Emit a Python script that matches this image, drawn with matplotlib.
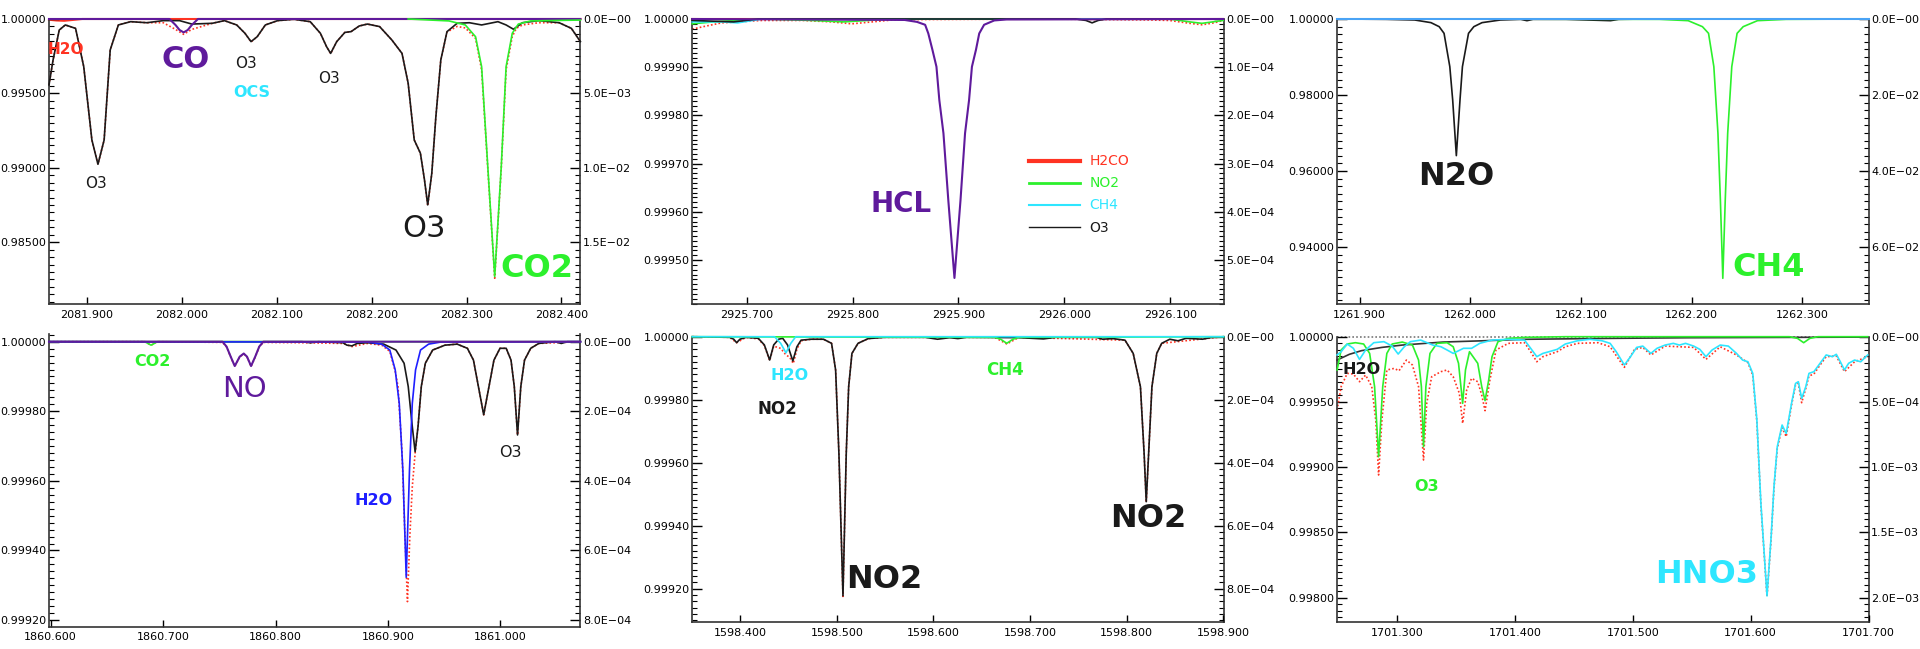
import matplotlib
matplotlib.use('Agg')
import matplotlib.pyplot as plt
from matplotlib.ticker import AutoMinorLocator, FuncFormatter
from matplotlib.lines import Line2D

# ---- panel 1 : 2082 cm-1 (CO / O3 / CO2) ----
p1_o3_x = [2081.860, 2081.8643, 2081.8708, 2081.8772, 2081.8880, 2081.8966, 2081.9052, 2081.9116, 2081.9181, 2081.9245,
           2081.9331, 2081.9460, 2081.9632, 2081.9804, 2081.9976, 2082.0105, 2082.0320, 2082.0449, 2082.0578, 2082.0665,
           2082.0729, 2082.0794, 2082.0880, 2082.1009, 2082.1181, 2082.1353, 2082.1460, 2082.1525, 2082.1568, 2082.1632,
           2082.1718, 2082.1783, 2082.1869, 2082.1955, 2082.2084, 2082.2213, 2082.2320, 2082.2385, 2082.2449, 2082.2514,
           2082.2557, 2082.2591, 2082.2634, 2082.2677, 2082.2729, 2082.2794, 2082.2901, 2082.3030, 2082.3159, 2082.3331,
           2082.3417, 2082.3495, 2082.3589, 2082.3761, 2082.3976, 2082.4105, 2082.4200]
p1_o3_y = [0.99557, 0.99725, 0.99926, 0.99960, 0.99937, 0.99680, 0.99187, 0.99024, 0.99187, 0.99792,
           0.99960, 0.99982, 0.99975, 0.99989, 0.99989, 0.99966, 0.99971, 0.99989, 0.99960, 0.99904,
           0.99848, 0.99881, 0.99960, 0.99989, 0.99998, 0.99982, 0.99904, 0.99814, 0.99769, 0.99848,
           0.99910, 0.99915, 0.99953, 0.99966, 0.99949, 0.99859, 0.99769, 0.99568, 0.99187, 0.99098,
           0.98919, 0.98751, 0.98963, 0.99344, 0.99725, 0.99915, 0.99971, 0.99975, 0.99960, 0.99982,
           0.99960, 0.99931, 0.99975, 0.99989, 0.99975, 0.99937, 0.99848]
p1_tot_x = [2081.860, 2081.8643, 2081.8708, 2081.8772, 2081.8880, 2081.8966, 2081.9052, 2081.9116, 2081.9181, 2081.9245,
            2081.9331, 2081.9460, 2081.9632, 2081.9804, 2081.9933, 2082.0019, 2082.0105, 2082.0320, 2082.0449, 2082.0578,
            2082.0665, 2082.0729, 2082.0794, 2082.0880, 2082.1009, 2082.1181, 2082.1353, 2082.1460, 2082.1525, 2082.1568,
            2082.1632, 2082.1718, 2082.1783, 2082.1869, 2082.1955, 2082.2084, 2082.2213, 2082.2320, 2082.2385, 2082.2449,
            2082.2514, 2082.2557, 2082.2591, 2082.2634, 2082.2677, 2082.2729, 2082.2794, 2082.2901, 2082.2987, 2082.3095,
            2082.3159, 2082.3224, 2082.3297, 2082.3366, 2082.3417, 2082.3482, 2082.3525, 2082.3589, 2082.3761, 2082.3976,
            2082.4105, 2082.4200]
p1_tot_y = [0.99557, 0.99725, 0.99926, 0.99960, 0.99937, 0.99680, 0.99187, 0.99024, 0.99187, 0.99792,
            0.99960, 0.99982, 0.99975, 0.99975, 0.99930, 0.99897, 0.99930, 0.99971, 0.99989, 0.99960,
            0.99904, 0.99846, 0.99881, 0.99960, 0.99989, 0.99998, 0.99982, 0.99904, 0.99814, 0.99767,
            0.99848, 0.99910, 0.99915, 0.99953, 0.99966, 0.99949, 0.99859, 0.99769, 0.99568, 0.99187,
            0.99098, 0.98919, 0.98745, 0.98963, 0.99344, 0.99725, 0.99912, 0.99950, 0.99940, 0.99870,
            0.99658, 0.98997, 0.98258, 0.98997, 0.99658, 0.99882, 0.99937, 0.99960, 0.99975, 0.99975,
            0.99937, 0.99848]
p1_co2_x = [2082.2385, 2082.2815, 2082.2987, 2082.3095, 2082.3159, 2082.3224, 2082.3297, 2082.3366, 2082.3417,
            2082.3482, 2082.3546, 2082.3675, 2082.4200]
p1_co2_y = [1.0, 0.99987, 0.99960, 0.99881, 0.99680, 0.99008, 0.98269, 0.99008, 0.99680,
            0.99904, 0.99966, 0.99987, 0.99993]
p1_co_x = [2081.860, 2081.9869, 2081.9933, 2081.9976, 2082.0019, 2082.0062, 2082.0105, 2082.0170, 2082.4200]
p1_co_y = [1.0, 1.0, 0.99960, 0.99926, 0.99910, 0.99926, 0.99960, 1.0, 1.0]
p1_h2o_x = [2081.860, 2081.868, 2081.876, 2081.884, 2081.895, 2082.420]
p1_h2o_y = [0.99995, 0.99990, 0.99988, 0.99993, 1.0, 1.0]

# ---- panel 2 : 2925.9 cm-1 (HCl) ----
p2_hcl_x = [2925.6485, 2925.8492, 2925.8608, 2925.8685, 2925.8715, 2925.8754, 2925.8792, 2925.8819, 2925.8858, 2925.8904,
            2925.8962, 2925.9019, 2925.9062, 2925.9100, 2925.9127, 2925.9165, 2925.9196, 2925.9242, 2925.9338, 2925.9454,
            2926.1500]
p2_hcl_y = [1.0, 0.999998, 0.999994, 0.999988, 0.999970, 0.999936, 0.999901, 0.999832, 0.999763, 0.999624,
            0.999463, 0.999624, 0.999763, 0.999832, 0.999901, 0.999936, 0.999970, 0.999988, 0.999997, 0.999999,
            1.0]
p2_tot_x = [2925.6485, 2925.6608, 2925.6762, 2925.6915, 2925.7146, 2925.7531, 2925.7800, 2925.7992, 2925.8185,
            2925.8377, 2925.8685, 2925.9838, 2926.0800, 2926.0992, 2926.1185, 2926.1300, 2926.1415, 2926.1500]
p2_tot_y = [0.999979, 0.999985, 0.999992, 0.999994, 0.999997, 0.999997, 0.999994, 0.999990, 0.999994,
            0.999998, 0.999999, 1.0, 0.999998, 0.999997, 0.999991, 0.999988, 0.999992, 0.999997]
p2_no2_x = [2925.6485, 2925.6685, 2925.6954, 2925.7146, 2925.7608, 2925.7915, 2925.8146, 2925.8300, 2926.0992,
            2926.1185, 2926.1300, 2926.1500]
p2_no2_y = [0.999990, 0.999994, 0.999998, 1.0, 0.999997, 0.999994, 0.999997, 1.0, 1.0, 0.999994, 0.999991, 0.999997]
p2_ch4_x = [2925.6485, 2925.6762, 2925.6915, 2925.7146, 2926.1500]
p2_ch4_y = [0.999994, 0.999994, 0.999992, 1.0, 1.0]
p2_o3_x = [2925.6485, 2925.6877, 2925.7108, 2926.0108, 2926.0204, 2926.0262, 2926.0319, 2926.0396, 2926.1500]
p2_o3_y = [0.999997, 0.999994, 1.0, 1.0, 0.999997, 0.999992, 0.999997, 1.0, 1.0]
p2_h2co_x = [2925.6485, 2926.1500]
p2_h2co_y = [1.0, 1.0]
p2_legend = ['H2CO', 'NO2', 'CH4', 'O3']

# ---- panel 3 : 1262 cm-1 (N2O / CH4) ----
p3_n2o_x = [1261.8797, 1261.9240, 1261.9498, 1261.9645, 1261.9719, 1261.9763, 1261.9815, 1261.9841, 1261.9874, 1261.9907,
            1261.9929, 1261.9984, 1262.0032, 1262.0106, 1262.0272, 1262.0456, 1262.0512, 1262.0567, 1262.0862, 1262.1267,
            1262.1341, 1262.1599, 1262.3597]
p3_n2o_y = [1.0, 0.99991, 0.99974, 0.99904, 0.99798, 0.99623, 0.98746, 0.97868, 0.96404, 0.97868,
            0.98746, 0.99623, 0.99798, 0.99904, 0.99974, 0.99991, 0.99956, 0.99991, 0.99991, 0.99956,
            0.99991, 1.0, 1.0]
p3_ch4_x = [1261.8797, 1262.1710, 1262.1968, 1262.2097, 1262.2152, 1262.2200, 1262.2237, 1262.2259, 1262.2281,
            1262.2303, 1262.2325, 1262.2362, 1262.2410, 1262.2465, 1262.2594, 1262.2853, 1262.3597]
p3_ch4_y = [1.0, 0.99991, 0.99956, 0.99798, 0.99623, 0.98746, 0.96991, 0.95237, 0.93175,
            0.95237, 0.96991, 0.98746, 0.99623, 0.99798, 0.99956, 0.99991, 1.0]
p3_base_x = [1261.8797, 1262.3597]
p3_base_y = [1.0, 1.0]

# ---- panel 4 : 1860.9 cm-1 (NO / H2O / O3) ----
p4_no_x = [1860.5985, 1860.7528, 1860.7564, 1860.7601, 1860.7637, 1860.7681, 1860.7717, 1860.7746, 1860.7782,
           1860.7819, 1860.7855, 1860.7891, 1861.0711]
p4_no_y = [1.0, 1.0, 0.999986, 0.999957, 0.999930, 0.999957, 0.999966, 0.999957, 0.999930,
           0.999957, 0.999986, 1.0, 1.0]
p4_co2_x = [1860.5985, 1860.6838, 1860.6864, 1860.6893, 1860.6922, 1860.6947, 1861.0711]
p4_co2_y = [1.0, 1.0, 0.999995, 0.999990, 0.999995, 1.0, 1.0]
p4_h2o_x = [1860.5985, 1860.8817, 1860.8944, 1860.9016, 1860.9064, 1860.9100, 1860.9132, 1860.9162, 1860.9191,
            1860.9216, 1860.9245, 1860.9289, 1860.9361, 1860.9470, 1861.0711]
p4_h2o_y = [1.0, 0.999999, 0.999993, 0.999976, 0.999919, 0.999823, 0.999631, 0.999323, 0.999631,
            0.999823, 0.999919, 0.999976, 0.999993, 0.999999, 1.0]
p4_o3_x = [1860.5985, 1860.8236, 1860.8309, 1860.8381, 1860.8599, 1860.8635, 1860.8679, 1860.8726, 1860.8817, 1860.8962,
           1860.9071, 1860.9143, 1860.9180, 1860.9216, 1860.9241, 1860.9267, 1860.9296, 1860.9332, 1860.9397, 1860.9506,
           1860.9615, 1860.9706, 1860.9760, 1860.9804, 1860.9851, 1860.9898, 1860.9942, 1860.9996, 1861.0051, 1861.0094,
           1861.0123, 1861.0152, 1861.0181, 1861.0214, 1861.0269, 1861.0341, 1861.0486, 1861.0541, 1861.0595, 1861.0711]
p4_o3_y = [1.0, 1.0, 0.999997, 1.0, 0.999997, 0.999990, 0.999988, 0.999995, 0.999997, 0.999993,
           0.999976, 0.999938, 0.999871, 0.999756, 0.999684, 0.999756, 0.999871, 0.999938, 0.999976, 0.999990,
           0.999993, 0.999981, 0.999947, 0.999871, 0.999790, 0.999871, 0.999947, 0.999981, 0.999981, 0.999947,
           0.999871, 0.999732, 0.999871, 0.999947, 0.999981, 0.999995, 1.0, 0.999995, 1.0, 1.0]
p4_tot_x = [1860.5985, 1860.6838, 1860.6893, 1860.6947, 1860.7528, 1860.7564, 1860.7601, 1860.7637, 1860.7681, 1860.7717,
            1860.7746, 1860.7782, 1860.7819, 1860.7855, 1860.7891, 1860.8236, 1860.8599, 1860.8679, 1860.8817, 1860.8944,
            1860.9016, 1860.9064, 1860.9089, 1860.9125, 1860.9151, 1860.9173, 1860.9194, 1860.9216, 1860.9241, 1860.9267,
            1860.9296, 1860.9332, 1860.9397, 1860.9506, 1860.9615, 1860.9706, 1860.9760, 1860.9804, 1860.9851, 1860.9898,
            1860.9942, 1860.9996, 1861.0051, 1861.0094, 1861.0123, 1861.0152, 1861.0181, 1861.0214, 1861.0269, 1861.0341,
            1861.0711]
p4_tot_y = [1.0, 1.0, 0.999990, 1.0, 0.999998, 0.999985, 0.999956, 0.999929, 0.999956, 0.999965,
            0.999956, 0.999929, 0.999956, 0.999985, 0.999998, 0.999997, 0.999995, 0.999986, 0.999995, 0.999990,
            0.999972, 0.999915, 0.999871, 0.999679, 0.999440, 0.999253, 0.999440, 0.999583, 0.999679, 0.999756,
            0.999871, 0.999938, 0.999976, 0.999990, 0.999993, 0.999981, 0.999947, 0.999871, 0.999790, 0.999871,
            0.999947, 0.999981, 0.999981, 0.999947, 0.999871, 0.999732, 0.999871, 0.999947, 0.999981, 0.999995,
            1.0]

# ---- panel 5 : 1598.5 cm-1 (NO2) ----
p5_no2_x = [1598.3502, 1598.3890, 1598.3932, 1598.3962, 1598.3996, 1598.4059, 1598.4186, 1598.4249, 1598.4304, 1598.4346,
            1598.4397, 1598.4439, 1598.4489, 1598.4544, 1598.4586, 1598.4629, 1598.4734, 1598.4861, 1598.4945, 1598.4987,
            1598.5021, 1598.5063, 1598.5097, 1598.5122, 1598.5156, 1598.5219, 1598.5325, 1598.5494, 1598.5916, 1598.6042,
            1598.6169, 1598.6253, 1598.6338, 1598.6886, 1598.7139, 1598.7266, 1598.7688, 1598.7751, 1598.7857, 1598.7983,
            1598.8068, 1598.8143, 1598.8181, 1598.8203, 1598.8228, 1598.8262, 1598.8312, 1598.8363, 1598.8447, 1598.8532,
            1598.8616, 1598.8785, 1598.8869, 1598.9004]
p5_no2_y = [1.0, 0.999998, 0.999992, 0.999981, 0.999992, 0.999998, 0.999995, 0.999974, 0.999926, 0.999974,
            0.999992, 0.999995, 0.999974, 0.999923, 0.999968, 0.999989, 0.999992, 0.999992, 0.999979, 0.999894,
            0.999630, 0.999177, 0.999630, 0.999841, 0.999947, 0.999979, 0.999994, 0.999998, 0.999998, 0.999992,
            0.999997, 0.999994, 0.999998, 0.999997, 0.999993, 0.999998, 0.999998, 0.999992, 0.999994, 0.999989,
            0.999947, 0.999841, 0.999630, 0.999476, 0.999630, 0.999841, 0.999947, 0.999979, 0.999992, 0.999987,
            0.999995, 0.999992, 0.999997, 1.0]
p5_h2o_x = [1598.3502, 1598.4354, 1598.4418, 1598.4473, 1598.4523, 1598.4574, 1598.9004]
p5_h2o_y = [1.0, 1.0, 0.999979, 0.999949, 0.999979, 1.0, 1.0]
p5_ch4_x = [1598.3502, 1598.6633, 1598.6696, 1598.6759, 1598.6823, 1598.6886, 1598.9004]
p5_ch4_y = [1.0, 0.999998, 0.999992, 0.999979, 0.999992, 0.999998, 1.0]
p5_tot_x = [1598.3502, 1598.3890, 1598.3962, 1598.4059, 1598.4186, 1598.4249, 1598.4304, 1598.4346, 1598.4418, 1598.4473,
            1598.4510, 1598.4549, 1598.4586, 1598.4629, 1598.4734, 1598.4861, 1598.4945, 1598.4987, 1598.5021, 1598.5063,
            1598.5097, 1598.5122, 1598.5156, 1598.5219, 1598.5325, 1598.5494, 1598.6633, 1598.6759, 1598.6886, 1598.7983,
            1598.8068, 1598.8143, 1598.8181, 1598.8203, 1598.8228, 1598.8262, 1598.8312, 1598.8363, 1598.9004]
p5_tot_y = [1.0, 0.999998, 0.999981, 0.999998, 0.999993, 0.999972, 0.999924, 0.999970, 0.999963, 0.999942,
            0.999935, 0.999915, 0.999960, 0.999987, 0.999992, 0.999992, 0.999979, 0.999894, 0.999630, 0.999175,
            0.999630, 0.999841, 0.999947, 0.999979, 0.999994, 0.999998, 0.999998, 0.999977, 0.999998, 0.999989,
            0.999947, 0.999841, 0.999630, 0.999474, 0.999630, 0.999841, 0.999947, 0.999979, 1.0]

# ---- panel 6 : 1701.6 cm-1 (HNO3 / O3 / H2O) ----
p6_h2o_x = [1701.2492, 1701.2596, 1701.2699, 1701.2872, 1701.3045, 1701.3391, 1701.3736, 1701.4082, 1701.4774,
            1701.5465, 1701.6993]
p6_h2o_y = [0.999821, 0.999865, 0.999893, 0.999918, 0.999936, 0.999959, 0.999969, 0.999980, 0.999987,
            0.999992, 0.999997]
p6_o3_x = [1701.2492, 1701.2526, 1701.2578, 1701.2647, 1701.2717, 1701.2768, 1701.2810, 1701.2844, 1701.2879, 1701.2914,
           1701.2959, 1701.3045, 1701.3131, 1701.3183, 1701.3207, 1701.3225, 1701.3245, 1701.3280, 1701.3339, 1701.3425,
           1701.3477, 1701.3522, 1701.3557, 1701.3581, 1701.3615, 1701.3685, 1701.3719, 1701.3747, 1701.3778, 1701.3806,
           1701.3857, 1701.3944, 1701.4082, 1701.4428, 1701.6329, 1701.6398, 1701.6450, 1701.6502, 1701.6571, 1701.6993]
p6_o3_y = [0.999745, 0.999898, 0.999944, 0.999954, 0.999944, 0.999872, 0.999617, 0.999080, 0.999617, 0.999872,
           0.999944, 0.999959, 0.999936, 0.999821, 0.999617, 0.999157, 0.999617, 0.999872, 0.999949, 0.999954,
           0.999923, 0.999796, 0.999489, 0.999745, 0.999885, 0.999796, 0.999617, 0.999510, 0.999668, 0.999847,
           0.999962, 0.999987, 0.999995, 1.0, 1.0, 0.999987, 0.999954, 0.999987, 1.0, 1.0]
p6_hno3_x = [1701.2492, 1701.2526, 1701.2578, 1701.2630, 1701.2682, 1701.2734, 1701.2803, 1701.2889, 1701.2959, 1701.3010,
             1701.3062, 1701.3114, 1701.3201, 1701.3304, 1701.3373, 1701.3425, 1701.3477, 1701.3564, 1701.3633, 1701.3702,
             1701.3806, 1701.3944, 1701.4082, 1701.4134, 1701.4186, 1701.4238, 1701.4290, 1701.4359, 1701.4428, 1701.4532,
             1701.4635, 1701.4739, 1701.4808, 1701.4860, 1701.4929, 1701.4981, 1701.5033, 1701.5085, 1701.5154, 1701.5206,
             1701.5275, 1701.5344, 1701.5396, 1701.5448, 1701.5517, 1701.5569, 1701.5621, 1701.5673, 1701.5742, 1701.5811,
             1701.5880, 1701.5932, 1701.5977, 1701.6018, 1701.6053, 1701.6087, 1701.6139, 1701.6174, 1701.6198, 1701.6226,
             1701.6267, 1701.6302, 1701.6347, 1701.6381, 1701.6405, 1701.6433, 1701.6468, 1701.6495, 1701.6537, 1701.6589,
             1701.6641, 1701.6693, 1701.6727, 1701.6761, 1701.6796, 1701.6831, 1701.6882, 1701.6934, 1701.6993]
p6_hno3_y = [0.999860, 0.999885, 0.999944, 0.999911, 0.999826, 0.999898, 0.999954, 0.999962, 0.999928, 0.999867,
             0.999923, 0.999962, 0.999974, 0.999936, 0.999923, 0.999898, 0.999872, 0.999911, 0.999911, 0.999949,
             0.999974, 0.999980, 0.999974, 0.999911, 0.999847, 0.999872, 0.999885, 0.999903, 0.999944, 0.999969,
             0.999980, 0.999969, 0.999949, 0.999885, 0.999783, 0.999847, 0.999918, 0.999928, 0.999872, 0.999911,
             0.999936, 0.999949, 0.999936, 0.999949, 0.999928, 0.999903, 0.999847, 0.999898, 0.999936, 0.999928,
             0.999872, 0.999821, 0.999808, 0.999719, 0.999361, 0.998723, 0.998013, 0.998467, 0.998851, 0.999157,
             0.999323, 0.999259, 0.999489, 0.999642, 0.999655, 0.999527, 0.999617, 0.999719, 0.999732, 0.999796,
             0.999860, 0.999847, 0.999865, 0.999808, 0.999745, 0.999796, 0.999821, 0.999808, 0.999860]
p6_tot_x = [1701.2492, 1701.2526, 1701.2578, 1701.2630, 1701.2682, 1701.2734, 1701.2786, 1701.2820, 1701.2844, 1701.2872,
            1701.2914, 1701.2976, 1701.3017, 1701.3080, 1701.3131, 1701.3183, 1701.3225, 1701.3252, 1701.3294, 1701.3373,
            1701.3425, 1701.3477, 1701.3529, 1701.3557, 1701.3591, 1701.3633, 1701.3685, 1701.3719, 1701.3747, 1701.3788,
            1701.3840, 1701.3944, 1701.4082, 1701.4134, 1701.4186, 1701.4238, 1701.4359, 1701.4428, 1701.4532, 1701.4705,
            1701.4808, 1701.4929, 1701.5015, 1701.5085, 1701.5154, 1701.5275, 1701.5396, 1701.5517, 1701.5621, 1701.5742,
            1701.5880, 1701.5977, 1701.6018, 1701.6053, 1701.6087, 1701.6139, 1701.6174, 1701.6198, 1701.6226, 1701.6267,
            1701.6302, 1701.6347, 1701.6381, 1701.6405, 1701.6433, 1701.6468, 1701.6495, 1701.6537, 1701.6589, 1701.6641,
            1701.6727, 1701.6796, 1701.6882, 1701.6993]
p6_tot_y = [0.999438, 0.999617, 0.999719, 0.999714, 0.999655, 0.999706, 0.999617, 0.999361, 0.998940, 0.999361,
            0.999745, 0.999757, 0.999739, 0.999821, 0.999783, 0.999617, 0.999055, 0.999489, 0.999693, 0.999732,
            0.999745, 0.999693, 0.999566, 0.999336, 0.999591, 0.999681, 0.999655, 0.999553, 0.999433, 0.999668,
            0.999898, 0.999949, 0.999954, 0.999885, 0.999808, 0.999847, 0.999885, 0.999923, 0.999949, 0.999954,
            0.999923, 0.999765, 0.999903, 0.999918, 0.999860, 0.999928, 0.999923, 0.999918, 0.999826, 0.999923,
            0.999860, 0.999801, 0.999706, 0.999349, 0.998710, 0.998008, 0.998455, 0.998838, 0.999144, 0.999305,
            0.999234, 0.999476, 0.999630, 0.999642, 0.999494, 0.999604, 0.999699, 0.999714, 0.999783, 0.999847,
            0.999852, 0.999732, 0.999808, 0.999847]
p6_base_x = [1701.2492, 1701.6993]
p6_base_y = [1.0, 1.0]

RED = '#ff3322'
BLACK = '#1a1a1a'
GREEN = '#2cf02c'
PURPLE = '#5f1a9c'
CYAN = '#2ee6ff'
BLUE = '#1f1fff'
SKY = '#4aa3f5'
DOT = (0, (1, 1.3))


def sci(v, pos):
    if abs(v) < 1e-12:
        return '0.0E\u221200'
    return f'{v:.1E}'.replace('-', '\u2212')


def frame(ax, xlim, xticks, ylim, yticks, rticks):
    ax.set_xlim(xlim)
    ax.set_ylim(ylim)
    ax.set_xticks(xticks)
    ax.set_yticks(yticks)
    ax.xaxis.set_major_formatter(FuncFormatter(lambda v, p: f'{v:.3f}'))
    ax.yaxis.set_major_formatter(FuncFormatter(lambda v, p: f'{v:.5f}'))
    ax.yaxis.set_minor_locator(AutoMinorLocator(10))
    ax.tick_params(axis='y', which='major', direction='in', length=7, width=1, pad=2, labelsize=8)
    ax.tick_params(axis='y', which='minor', direction='in', length=3.5, width=0.8)
    ax.tick_params(axis='x', which='major', direction='in', length=5, width=1, pad=4, labelsize=8)
    ax.spines['top'].set_visible(False)
    ax.spines['right'].set_visible(False)
    for s in ('left', 'bottom'):
        ax.spines[s].set_linewidth(1.2)
        ax.spines[s].set_color('#333333')
    sec = ax.secondary_yaxis('right', functions=(lambda y: 1 - y, lambda a: 1 - a))
    sec.set_yticks(rticks)
    sec.yaxis.set_major_formatter(FuncFormatter(sci))
    sec.yaxis.set_minor_locator(AutoMinorLocator(10))
    sec.tick_params(which='major', direction='in', length=7, width=1, pad=2, labelsize=8)
    sec.tick_params(which='minor', direction='in', length=3.5, width=0.8)
    sec.spines['right'].set_linewidth(1.2)
    sec.spines['right'].set_color('#333333')


def line(ax, xs, ys, color, ls='-', lw=1.2, z=2):
    ax.plot(xs, ys, color=color, linestyle=ls, lw=lw, zorder=z, clip_on=False,
            solid_joinstyle='round', dash_joinstyle='round')


def label(ax, x, y, s, color, size, bold=True):
    ax.text(x, y, s, color=color, fontsize=size, fontweight='bold' if bold else 'normal',
            ha='center', va='center', zorder=6)


fig = plt.figure(figsize=(19.2, 6.49), dpi=100)
W = 0.27677
ax1 = fig.add_axes([0.02552, 0.53159, W, 0.43914])
ax2 = fig.add_axes([0.36052, 0.53159, W, 0.43914])
ax3 = fig.add_axes([0.69641, 0.53159, W, 0.43914])
ax4 = fig.add_axes([0.02552, 0.03436, W, 0.45100])
ax5 = fig.add_axes([0.36052, 0.04114, W, 0.44006])
ax6 = fig.add_axes([0.69641, 0.04114, W, 0.44006])

# panel 1
line(ax1, p1_h2o_x, p1_h2o_y, RED, lw=1.5, z=1)
line(ax1, p1_tot_x, p1_tot_y, RED, ls=DOT, z=2)
line(ax1, p1_o3_x, p1_o3_y, BLACK, z=3)
line(ax1, p1_co_x, p1_co_y, PURPLE, lw=1.5, z=4)
line(ax1, p1_co2_x, p1_co2_y, GREEN, z=5)
frame(ax1, (2081.86, 2082.42), [2081.9, 2082.0, 2082.1, 2082.2, 2082.3, 2082.4],
      (0.98085, 1.0), [1.0, 0.995, 0.990, 0.985], [0.0, 0.005, 0.010, 0.015])
label(ax1, 2081.878, 0.99792, 'H2O', RED, 11)
label(ax1, 2082.0041, 0.99729, 'CO', PURPLE, 22)
label(ax1, 2082.0677, 0.99700, 'O3', BLACK, 11, bold=False)
label(ax1, 2082.0733, 0.99503, 'OCS', CYAN, 11.5)
label(ax1, 2082.1551, 0.99597, 'O3', BLACK, 11, bold=False)
label(ax1, 2081.9099, 0.98896, 'O3', BLACK, 11, bold=False)
label(ax1, 2082.2557, 0.98589, 'O3', BLACK, 22, bold=False)
label(ax1, 2082.3744, 0.98325, 'CO2', GREEN, 23)

# panel 2
line(ax2, p2_tot_x, p2_tot_y, RED, ls=DOT, z=1)
line(ax2, p2_h2co_x, p2_h2co_y, RED, lw=1.5, z=2)
line(ax2, p2_no2_x, p2_no2_y, GREEN, z=3)
line(ax2, p2_ch4_x, p2_ch4_y, CYAN, z=3)
line(ax2, p2_o3_x, p2_o3_y, BLACK, z=3)
line(ax2, p2_hcl_x, p2_hcl_y, PURPLE, lw=1.5, z=4)
frame(ax2, (2925.6485, 2926.1504), [2925.7, 2925.8, 2925.9, 2926.0, 2926.1],
      (0.999409, 1.0), [1.0, 0.9999, 0.9998, 0.9997, 0.9996, 0.9995],
      [0.0, 1e-4, 2e-4, 3e-4, 4e-4, 5e-4])
label(ax2, 2925.8458, 0.999616, 'HCL', PURPLE, 20)
handles = [Line2D([], [], color=RED, lw=3), Line2D([], [], color=GREEN, lw=2),
           Line2D([], [], color=CYAN, lw=1.5), Line2D([], [], color=BLACK, lw=1)]
ax2.legend(handles, p2_legend, loc='upper left', bbox_to_anchor=(0.633, 0.525), frameon=False,
           fontsize=10, handlelength=3.7, handletextpad=0.7, labelspacing=0.58, borderpad=0,
           borderaxespad=0, labelcolor=[RED, GREEN, CYAN, BLACK])

# panel 3
line(ax3, p3_n2o_x, p3_n2o_y, BLACK, z=2)
line(ax3, p3_ch4_x, p3_ch4_y, GREEN, z=3)
line(ax3, p3_base_x, p3_base_y, SKY, lw=1.5, z=4)
frame(ax3, (1261.8797, 1262.3597), [1261.9, 1262.0, 1262.1, 1262.2, 1262.3],
      (0.925, 1.0), [1.0, 0.98, 0.96, 0.94], [0.0, 0.02, 0.04, 0.06])
label(ax3, 1261.9874, 0.95851, 'N2O', BLACK, 23)
label(ax3, 1262.2698, 0.93456, 'CH4', GREEN, 23)

# panel 4
line(ax4, p4_tot_x, p4_tot_y, RED, ls=DOT, z=1)
line(ax4, p4_o3_x, p4_o3_y, BLACK, z=2)
line(ax4, p4_co2_x, p4_co2_y, GREEN, z=3)
line(ax4, p4_h2o_x, p4_h2o_y, BLUE, z=3)
line(ax4, p4_no_x, p4_no_y, PURPLE, lw=1.5, z=4)
frame(ax4, (1860.5985, 1861.0711), [1860.6, 1860.7, 1860.8, 1860.9, 1861.0],
      (0.999181, 1.0000221), [1.0, 0.9998, 0.9996, 0.9994, 0.9992], [0.0, 2e-4, 4e-4, 6e-4, 8e-4])
label(ax4, 1860.6907, 0.999944, 'CO2', GREEN, 11.5)
label(ax4, 1860.7724, 0.999864, 'NO', PURPLE, 21, bold=False)
label(ax4, 1860.8868, 0.999545, 'H2O', BLUE, 11.5)
label(ax4, 1861.0087, 0.999681, 'O3', BLACK, 11.5, bold=False)

# panel 5
line(ax5, p5_tot_x, p5_tot_y, RED, ls=DOT, z=1)
line(ax5, p5_no2_x, p5_no2_y, BLACK, z=2)
line(ax5, p5_ch4_x, p5_ch4_y, GREEN, z=3)
line(ax5, p5_h2o_x, p5_h2o_y, CYAN, z=4)
frame(ax5, (1598.3502, 1598.9004), [1598.4, 1598.5, 1598.6, 1598.7, 1598.8, 1598.9],
      (0.999093, 1.0), [1.0, 0.9998, 0.9996, 0.9994, 0.9992], [0.0, 2e-4, 4e-4, 6e-4, 8e-4])
label(ax5, 1598.4515, 0.999876, 'H2O', CYAN, 11.5)
label(ax5, 1598.4388, 0.999771, 'NO2', BLACK, 12)
label(ax5, 1598.6743, 0.999895, 'CH4', GREEN, 12)
label(ax5, 1598.5489, 0.999228, 'NO2', BLACK, 23)
label(ax5, 1598.8219, 0.999423, 'NO2', BLACK, 23)

# panel 6
line(ax6, p6_base_x, p6_base_y, '#777777', ls=DOT, z=1)
line(ax6, p6_tot_x, p6_tot_y, RED, ls=DOT, z=2)
line(ax6, p6_h2o_x, p6_h2o_y, '#333333', z=3)
line(ax6, p6_o3_x, p6_o3_y, GREEN, z=4)
line(ax6, p6_hno3_x, p6_hno3_y, CYAN, z=5)
frame(ax6, (1701.2492, 1701.6995), [1701.3, 1701.4, 1701.5, 1701.6, 1701.7],
      (0.997811, 1.0), [1.0, 0.9995, 0.999, 0.9985, 0.998], [0.0, 5e-4, 1e-3, 1.5e-3, 2e-3])
label(ax6, 1701.2699, 0.999752, 'H2O', BLACK, 11.5)
label(ax6, 1701.3249, 0.998851, 'O3', GREEN, 11.5)
label(ax6, 1701.5624, 0.998174, 'HNO3', CYAN, 23)

fig.savefig('out.png', dpi=100, facecolor='white')
